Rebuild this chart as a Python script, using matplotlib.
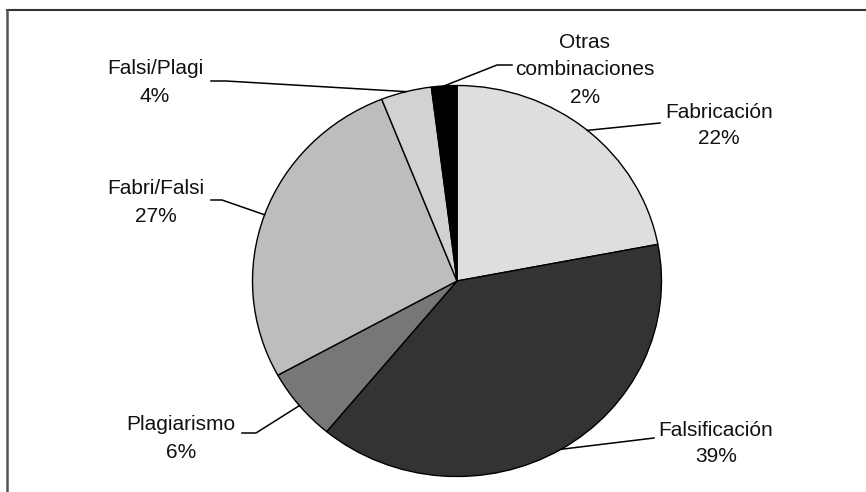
import matplotlib
matplotlib.use("Agg")
import matplotlib.pyplot as plt
import numpy as np
from matplotlib.lines import Line2D

# ---- data ----
categories = ["Fabricación", "Falsificación", "Plagiarismo", "Fabri/Falsi", "Falsi/Plagi", "Otras combinaciones"]
values = [22, 39, 6, 27, 4, 2]
label_lines = [["Fabricación", "22%"],
               ["Falsificación", "39%"],
               ["Plagiarismo", "6%"],
               ["Fabri/Falsi", "27%"],
               ["Falsi/Plagi", "4%"],
               ["Otras", "combinaciones", "2%"]]
colors = ["#dedede", "#333333", "#777777", "#bdbdbd", "#d2d2d2", "#000000"]

W, H = 866, 492
plt.rcParams['font.family'] = ['Liberation Sans', 'DejaVu Sans']
fig = plt.figure(figsize=(W / 100, H / 100), dpi=100)

# pie geometry in pixels
cx, cy, rx, ry = 457, 281, 204.5, 195.5
lim = 1.25
ax = fig.add_axes([(cx - lim * rx) / W, ((H - cy) - lim * ry) / H,
                   2 * lim * rx / W, 2 * lim * ry / H])
wedges, _ = ax.pie(values, colors=colors, startangle=90, counterclock=False,
                   wedgeprops=dict(edgecolor="black", linewidth=1.0))
ax.set_aspect("auto")
ax.set_xlim(-lim, lim)
ax.set_ylim(-lim, lim)
ax.axis("off")

def px(x, y):
    return (x / W, 1 - y / H)

# label text layout: (center x, first baseline y, line spacing) in pixels
label_pos = [(719, 118, 26.5), (716, 435.5, 26.5), (181, 430.5, 28),
             (156, 193.5, 28), (155, 74.5, 28), (585, 47.5, 27.8)]
# text-side leader points (pixels), joined to the wedge edge at mid angle
leader_pts = [[(660, 123)], [(654, 438)], [(242, 433), (256, 433)],
              [(211, 200), (222, 200)], [(211, 81), (226, 81)], [(512, 65), (497, 65)]]

for w, lines, (lx, ly, sp), pts in zip(wedges, label_lines, label_pos, leader_pts):
    for i, t in enumerate(lines):
        x, y = px(lx, ly + i * sp)
        fig.text(x, y, t, ha="center", va="baseline", fontsize=15, color="#111111")
    ang = np.deg2rad((w.theta1 + w.theta2) / 2)
    ex = cx + rx * np.cos(ang)
    ey = cy - ry * np.sin(ang)
    allp = pts + [(ex, ey)]
    xs = [p[0] / W for p in allp]
    ys = [1 - p[1] / H for p in allp]
    fig.add_artist(Line2D(xs, ys, color="black", linewidth=1.1, transform=fig.transFigure))

# outer frame (top and left visible)
fig.add_artist(Line2D([7 / W, 1.0], [1 - 10 / H, 1 - 10 / H], color="#333333", linewidth=1.5,
                      transform=fig.transFigure))
fig.add_artist(Line2D([7 / W, 7 / W], [0, 1 - 10 / H], color="#555555", linewidth=1.8,
                      transform=fig.transFigure))

fig.savefig("out.png", dpi=100)
